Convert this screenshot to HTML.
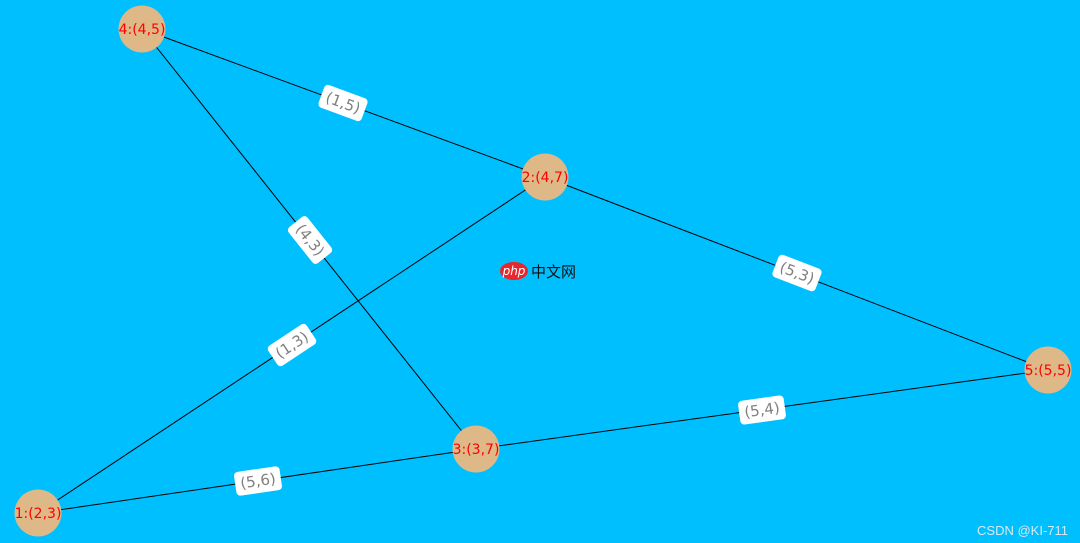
<!DOCTYPE html>
<html><head><meta charset="utf-8"><style>
body{margin:0;width:1080px;height:543px;overflow:hidden;background:#00BFFF;}
svg{display:block}
text{font-family:"DejaVu Sans","Liberation Sans",sans-serif;}
</style></head><body>
<svg width="1080" height="543" viewBox="0 0 1080 543">
<rect width="1080" height="543" fill="#00BFFF"/>
<g stroke="#000" stroke-width="1">
<line x1="142" y1="29" x2="545" y2="177"/>
<line x1="142" y1="29" x2="476" y2="449"/>
<line x1="38" y1="513" x2="545" y2="177"/>
<line x1="545" y1="177" x2="1048" y2="370"/>
<line x1="476" y1="449" x2="1048" y2="370"/>
<line x1="38" y1="513" x2="476" y2="449"/>
</g>
<g font-size="15" fill="#808080" text-anchor="middle">
<g transform="translate(343,103) rotate(20.2)"><rect x="-23" y="-12" width="46" height="24" rx="4" fill="#fff"/><text y="5">(1,5)</text></g>
<g transform="translate(310,240) rotate(51.5)"><rect x="-23" y="-12" width="46" height="24" rx="4" fill="#fff"/><text y="5">(4,3)</text></g>
<g transform="translate(292,345) rotate(-33.5)"><rect x="-23" y="-12" width="46" height="24" rx="4" fill="#fff"/><text y="5">(1,3)</text></g>
<g transform="translate(797,273) rotate(21)"><rect x="-23" y="-12" width="46" height="24" rx="4" fill="#fff"/><text y="5">(5,3)</text></g>
<g transform="translate(762,410) rotate(-7.9)"><rect x="-23" y="-12" width="46" height="24" rx="4" fill="#fff"/><text y="5">(5,4)</text></g>
<g transform="translate(258,481) rotate(-8.3)"><rect x="-23" y="-12" width="46" height="24" rx="4" fill="#fff"/><text y="5">(5,6)</text></g>
</g>
<g fill="#DEB887">
<circle cx="142" cy="29" r="23.5"/>
<circle cx="545" cy="177" r="23.5"/>
<circle cx="1048" cy="370" r="23.5"/>
<circle cx="476" cy="449" r="23.5"/>
<circle cx="38" cy="513" r="23.5"/>
</g>
<g font-size="14" fill="#FF0000" text-anchor="middle">
<text x="142" y="34">4:(4,5)</text>
<text x="545" y="182">2:(4,7)</text>
<text x="1048" y="375">5:(5,5)</text>
<text x="476" y="454">3:(3,7)</text>
<text x="38" y="518">1:(2,3)</text>
</g>
<ellipse cx="514" cy="271" rx="14" ry="9" fill="#e8262b"/>
<text x="514" y="275" font-size="12" font-style="italic" fill="#fff" text-anchor="middle">php</text>
<text x="531" y="277" font-size="15" fill="#111" style='font-family:"Noto Sans CJK SC",sans-serif'>中文网</text>
<text x="1068" y="535" font-size="13" fill="#d8e8ee" text-anchor="end" style='font-family:"Liberation Sans",sans-serif'>CSDN @KI-711</text>
</svg>
</body></html>
